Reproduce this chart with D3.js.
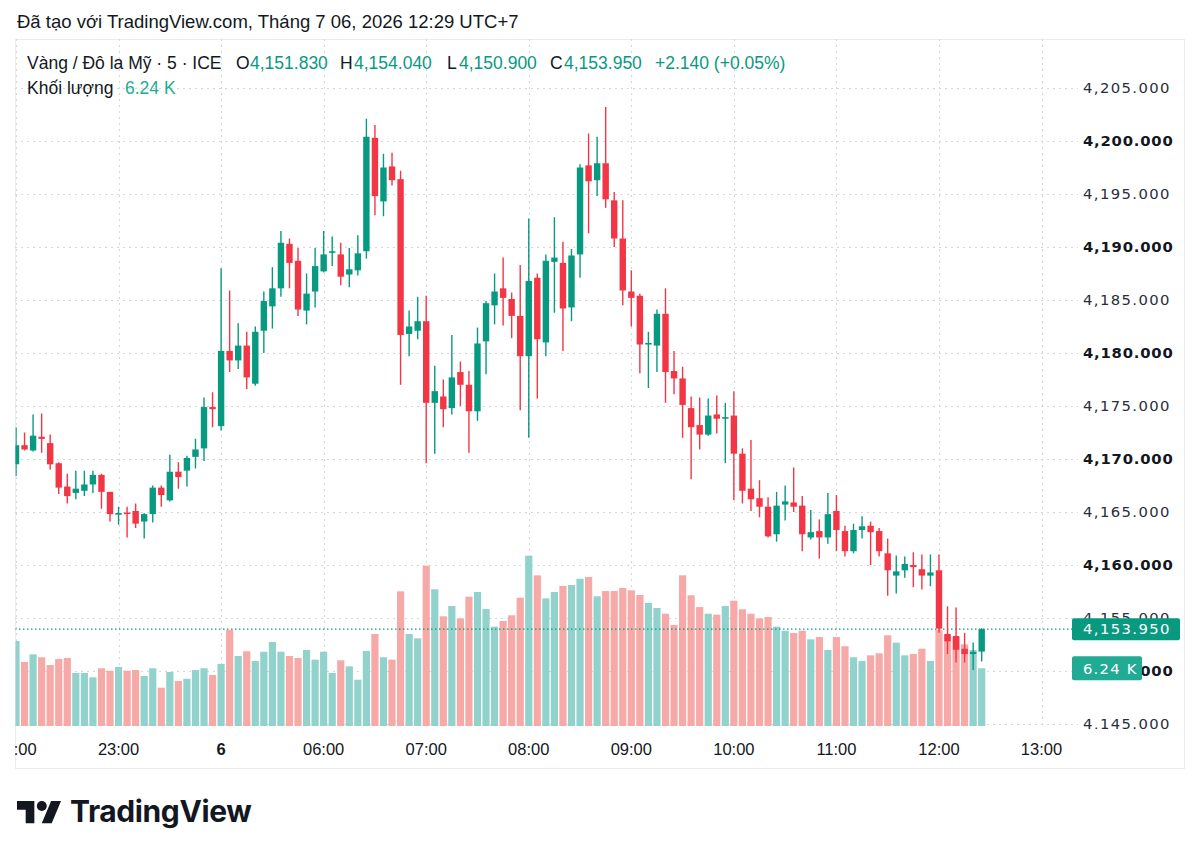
<!DOCTYPE html>
<html>
<head>
<meta charset="utf-8">
<script src="https://cdn.jsdelivr.net/npm/d3@7"></script>
<style>
  body { margin: 0; background: #fff; }
  svg { display: block; }
</style>
</head>
<body>
<script>
// 5 minute candles, XAU/USD (ICE)
var opens = [4169.5,4171.3,4170.8,4172.1,4171.5,4169.6,4167.4,4166.8,4167.0,4167.6,
  4168.5,4166.9,4164.8,4164.95,4165.1,4164.1,4164.8,4167.3,4166.1,4168.8,
  4168.9,4170.2,4171.0,4174.9,4173.1,4180.2,4179.3,4180.7,4177.1,4182.1,
  4184.4,4186.1,4190.3,4188.7,4184.0,4185.8,4187.7,4189.5,4189.3,4187.4,
  4187.8,4189.6,4200.3,4194.3,4197.6,4196.4,4181.8,4182.1,4183.0,4175.3,
  4175.9,4174.8,4178.2,4177.0,4174.5,4181.1,4184.5,4186.1,4185.1,4183.5,
  4179.7,4187.1,4181.0,4188.6,4188.5,4184.3,4189.3,4197.7,4196.3,4197.9,
  4194.4,4190.8,4185.8,4185.4,4180.85,4180.7,4183.7,4178.3,4177.6,4174.8,
  4173.2,4172.3,4174.2,4173.8,4174.1,4170.5,4167.2,4166.3,4165.5,4162.9,
  4165.7,4165.9,4165.6,4162.6,4163.2,4162.6,4165.1,4163.2,4161.3,4163.3,
  4163.7,4163.2,4161.1,4159.0,4159.5,4160.0,4159.6,4159.0,4159.5,4153.5,
  4153.3,4152.1,4151.6,4151.83];
var highs = [4173.0,4172.5,4174.2,4174.3,4172.3,4169.7,4168.6,4168.9,4168.9,4168.9,
  4168.6,4166.9,4165.5,4165.5,4165.8,4164.9,4167.5,4167.5,4170.4,4169.7,
  4170.3,4171.9,4175.8,4176.3,4188.0,4185.9,4182.8,4182.0,4182.5,4185.8,
  4188.1,4191.5,4190.8,4189.9,4187.5,4189.9,4191.5,4191.0,4190.4,4189.9,
  4191.1,4202.1,4201.5,4198.8,4198.9,4197.2,4184.0,4185.3,4185.4,4178.8,
  4177.5,4181.7,4179.2,4178.3,4182.4,4184.9,4187.5,4189.0,4185.7,4188.3,
  4192.7,4187.5,4189.3,4192.8,4190.5,4189.8,4197.8,4200.7,4200.4,4203.2,
  4195.2,4194.4,4187.8,4185.6,4182.0,4184.1,4186.1,4180.2,4178.7,4175.9,
  4175.8,4175.7,4176.0,4175.3,4176.4,4171.0,4171.8,4168.0,4166.4,4166.9,
  4167.5,4169.2,4166.5,4165.2,4164.3,4166.8,4166.6,4163.7,4163.9,4164.6,
  4164.1,4163.5,4162.5,4160.9,4160.8,4161.2,4161.0,4161.0,4161.0,4156.1,
  4156.0,4153.6,4152.7,4154.04];
var lows = [4168.4,4170.8,4170.7,4170.6,4169.0,4166.7,4165.8,4166.2,4166.5,4166.8,
  4165.3,4164.1,4163.8,4162.6,4163.5,4162.5,4164.0,4165.5,4166.0,4167.2,
  4167.4,4169.1,4169.8,4173.0,4172.7,4178.2,4178.5,4176.6,4176.9,4180.0,
  4182.3,4185.3,4186.1,4183.5,4182.7,4184.3,4187.6,4188.2,4186.4,4186.2,
  4187.3,4188.9,4193.0,4192.9,4195.8,4177.0,4179.7,4181.3,4169.6,4170.5,
  4173.0,4174.2,4175.0,4170.6,4173.6,4178.0,4182.7,4182.6,4181.4,4174.6,
  4172.0,4175.7,4179.7,4183.8,4180.2,4183.0,4187.1,4191.3,4194.8,4193.7,
  4190.0,4184.5,4182.5,4178.1,4176.7,4178.2,4175.3,4176.1,4172.0,4168.1,
  4170.9,4172.2,4172.4,4169.6,4166.1,4165.8,4165.1,4164.5,4162.6,4162.2,
  4164.2,4165.0,4161.3,4162.4,4160.6,4162.0,4161.3,4160.8,4161.1,4162.5,
  4160.0,4160.8,4157.1,4157.3,4158.8,4157.9,4157.7,4158.0,4153.6,4151.6,
  4150.8,4150.8,4150.1,4150.9];
var closes = [4171.3,4170.9,4172.2,4171.9,4169.5,4167.3,4166.5,4167.2,4167.6,4168.5,
  4166.9,4164.8,4164.9,4164.85,4163.9,4164.8,4167.3,4166.6,4168.8,4168.3,
  4170.1,4170.9,4174.9,4174.7,4180.2,4179.3,4180.7,4177.7,4182.0,4184.9,
  4186.1,4190.4,4188.5,4184.1,4185.6,4188.2,4189.3,4189.6,4187.2,4187.9,
  4189.4,4200.4,4194.8,4197.5,4196.3,4181.7,4182.5,4183.0,4175.3,4176.4,
  4174.7,4177.7,4177.0,4174.5,4180.9,4184.7,4185.8,4185.2,4183.5,4179.7,
  4186.8,4181.3,4188.7,4189.0,4184.2,4189.2,4197.5,4196.2,4197.9,4194.5,
  4190.8,4185.9,4185.2,4180.8,4180.95,4183.7,4178.2,4177.6,4175.1,4173.0,
  4172.3,4174.1,4173.8,4173.95,4170.5,4167.0,4166.2,4165.5,4162.7,4165.6,
  4166.0,4165.5,4162.9,4163.1,4162.6,4164.8,4163.3,4161.3,4163.3,4163.65,
  4163.1,4161.3,4159.5,4159.4,4160.1,4159.8,4159.0,4159.3,4154.0,4152.8,
  4152.0,4151.6,4151.8,4153.95];
// volume in thousands
var volumes = [9.19,6.92,7.75,7.43,6.59,7.24,7.35,5.73,5.73,5.26,
  6.24,5.98,6.38,5.98,6.05,5.41,6.24,4.14,5.84,4.86,
  5.11,6.05,6.24,5.51,6.70,10.38,7.57,8.08,7.03,8.03,
  9.08,8.03,7.57,7.35,8.22,7.17,8.03,5.73,7.10,6.45,
  5.01,8.11,9.95,7.43,7.17,14.56,9.95,9.48,17.33,14.78,
  11.86,12.97,11.64,13.98,14.49,12.65,10.74,11.35,11.97,13.87,
  18.41,16.29,13.80,14.49,15.14,15.24,15.92,16.11,14.02,14.59,
  14.59,14.92,14.67,14.16,13.30,12.76,12.14,10.92,16.29,14.13,
  12.86,12.14,12.03,12.97,13.55,12.62,12.14,11.64,11.78,10.74,
  10.30,10.05,10.30,9.37,9.62,8.22,9.62,8.62,7.43,7.03,
  7.64,7.86,9.81,9.01,7.64,7.78,8.36,7.03,10.38,9.81,
  9.59,8.83,8.22,6.24];

var timeTicks = [0, 12, 24, 36, 48, 60, 72, 84, 96, 108, 120];
var timeLabels = ["22:00", "23:00", "6", "06:00", "07:00", "08:00", "09:00", "10:00", "11:00", "12:00", "13:00"];
var priceTicks = [4145, 4150, 4155, 4160, 4165, 4170, 4175, 4180, 4185, 4190, 4195, 4200, 4205];

var GREEN = "#089981", RED = "#F23645";
var VOL_UP = "#92D2CC", VOL_DN = "#F7A9A7";

var svg = d3.select("body").append("svg").attr("width", 1200).attr("height", 857);
svg.append("rect").attr("width", 1200).attr("height", 857).attr("fill", "#fff");

var paneL = 15, paneR = 1072, paneT = 39, paneB = 727;

var x = d3.scaleLinear().domain([0, 113]).range([16, 981.7]);
var y = d3.scaleLinear().domain([4145, 4205]).range([724, 88]);
var yv = d3.scaleLinear().domain([0, 10]).range([726, 633.5]);

var fmt = d3.format(",.3f");

// frame
svg.append("rect").attr("x", 15.5).attr("y", 39.5).attr("width", 1169).attr("height", 729)
  .attr("fill", "none").attr("stroke", "#e9ebf0");

svg.append("defs").append("clipPath").attr("id", "pane")
  .append("rect").attr("x", paneL + 0.5).attr("y", paneT).attr("width", paneR - paneL).attr("height", paneB - paneT);

// grid
var grid = svg.append("g").attr("stroke", "#d3d6dd").attr("stroke-dasharray", "2,4");
grid.selectAll("line.h").data(priceTicks).enter().append("line")
  .attr("x1", paneL).attr("x2", 1078)
  .attr("y1", d => Math.round(y(d)) + 0.5).attr("y2", d => Math.round(y(d)) + 0.5);
grid.selectAll("line.v").data(timeTicks.filter(d => x(d) < paneR)).enter().append("line")
  .attr("y1", paneT).attr("y2", paneB)
  .attr("x1", d => Math.round(x(d)) + 0.5).attr("x2", d => Math.round(x(d)) + 0.5);

var idx = d3.range(opens.length);
var plot = svg.append("g").attr("clip-path", "url(#pane)");

// volume
plot.append("g").selectAll("rect").data(idx).enter().append("rect")
  .attr("x", i => x(i) - 3.6).attr("width", 7.2)
  .attr("y", i => yv(volumes[i])).attr("height", i => yv(0) - yv(volumes[i]))
  .attr("fill", i => closes[i] >= opens[i] ? VOL_UP : VOL_DN);

// last price line
plot.append("line")
  .attr("x1", paneL).attr("x2", paneR)
  .attr("y1", y(closes[113])).attr("y2", y(closes[113]))
  .attr("stroke", GREEN).attr("stroke-width", 1.3).attr("stroke-dasharray", "1.5,2.5");

// candles
var candles = plot.append("g").selectAll("g").data(idx).enter().append("g")
  .attr("fill", i => closes[i] >= opens[i] ? GREEN : RED)
  .attr("stroke", i => closes[i] >= opens[i] ? GREEN : RED);
candles.append("line")
  .attr("x1", i => x(i)).attr("x2", i => x(i))
  .attr("y1", i => y(highs[i])).attr("y2", i => y(lows[i]))
  .attr("stroke-width", 1.4);
candles.append("rect")
  .attr("stroke", "none")
  .attr("x", i => x(i) - 3.2).attr("width", 6.4)
  .attr("y", i => y(Math.max(opens[i], closes[i])))
  .attr("height", i => Math.max(1.6, Math.abs(y(opens[i]) - y(closes[i]))));

// price axis
svg.append("defs").append("clipPath").attr("id", "paxis")
  .append("rect").attr("x", 1072).attr("y", paneT).attr("width", 115).attr("height", paneB - paneT + 2);
var pa = svg.append("g").attr("font-family", "DejaVu Sans, sans-serif").attr("font-size", 14.8)
  .attr("clip-path", "url(#paxis)");
pa.selectAll("text").data(priceTicks).enter().append("text")
  .attr("x", 1083).attr("y", d => y(d)).attr("dy", "0.36em")
  .attr("letter-spacing", d => d % 10 === 0 ? 0.8 : 1.4)
  .attr("font-weight", d => d % 10 === 0 ? "bold" : "normal")
  .attr("fill", d => d % 10 === 0 ? "#131722" : "#2a2e39")
  .text(d => fmt(d));

// last price and volume tags
var ly = y(closes[113]);
svg.append("rect").attr("x", 1072).attr("y", ly - 11).attr("width", 108).attr("height", 22)
  .attr("rx", 2).attr("fill", GREEN);
svg.append("text").attr("x", 1083).attr("y", ly).attr("dy", "0.36em")
  .attr("font-family", "DejaVu Sans, sans-serif").attr("font-size", 14.8).attr("letter-spacing", 1.4)
  .attr("fill", "#fff").text(fmt(closes[113]));
var vy = yv(volumes[113]);
svg.append("rect").attr("x", 1072).attr("y", vy - 12).attr("width", 70).attr("height", 24)
  .attr("rx", 2).attr("fill", "#22ab94");
svg.append("text").attr("x", 1083).attr("y", vy).attr("dy", "0.36em")
  .attr("font-family", "DejaVu Sans, sans-serif").attr("font-size", 14.8).attr("letter-spacing", 1.2)
  .attr("fill", "#fff").text(volumes[113].toFixed(2) + " K");

// time axis
svg.append("defs").append("clipPath").attr("id", "taxis")
  .append("rect").attr("x", paneL).attr("y", paneB).attr("width", 1060).attr("height", 40);
svg.append("g").attr("clip-path", "url(#taxis)")
  .attr("font-family", "Liberation Sans, Arial, sans-serif").attr("font-size", 16.5).attr("fill", "#131722")
  .selectAll("text").data(timeTicks).enter().append("text")
  .attr("x", d => x(d)).attr("y", 755).attr("text-anchor", "middle")
  .attr("font-weight", (d, i) => timeLabels[i] === "6" ? "bold" : "normal")
  .text((d, i) => timeLabels[i]);

// header
svg.append("text").attr("x", 17).attr("y", 28)
  .attr("font-family", "Liberation Sans, Arial, sans-serif").attr("font-size", 18.5).attr("fill", "#131722")
  .text("Đã tạo với TradingView.com, Tháng 7 06, 2026 12:29 UTC+7");

var last = 113;
var legend = [
  ["Vàng / Đô la Mỹ · 5 · ICE", 27, "#131722"],
  ["O", 236, "#131722"], [fmt(opens[last]), 250, GREEN],
  ["H", 340, "#131722"], [fmt(highs[last]), 354, GREEN],
  ["L", 447, "#131722"], [fmt(lows[last]), 459, GREEN],
  ["C", 550, "#131722"], [fmt(closes[last]), 564, GREEN],
  ["+2.140 (+0.05%)", 655, GREEN]
];
svg.append("g").attr("font-family", "Liberation Sans, Arial, sans-serif").attr("font-size", 17.5)
  .selectAll("text").data(legend).enter().append("text")
  .attr("x", d => d[1]).attr("y", 69).attr("fill", d => d[2]).text(d => d[0]);
var legend2 = [["Khối lượng", 27, "#131722"], [volumes[last].toFixed(2) + " K", 125, "#22ab94"]];
svg.append("g").attr("font-family", "Liberation Sans, Arial, sans-serif").attr("font-size", 17.5)
  .selectAll("text").data(legend2).enter().append("text")
  .attr("x", d => d[1]).attr("y", 94).attr("fill", d => d[2]).text(d => d[0]);

// logo
var logo = svg.append("g").attr("fill", "#131722");
logo.append("g").attr("transform", "translate(17,796) scale(1.24)")
  .call(g => {
    g.append("path").attr("d", "M14 22H7V11H0V4h14v18zM28 22h-8l7.5-18h8L28 22z");
    g.append("circle").attr("cx", 20).attr("cy", 8).attr("r", 4);
  });
logo.append("text").attr("x", 70).attr("y", 822)
  .attr("font-family", "Inter, sans-serif").attr("font-weight", 700).attr("font-size", 30)
  .attr("letter-spacing", -0.4)
  .text("TradingView");
</script>
</body>
</html>
